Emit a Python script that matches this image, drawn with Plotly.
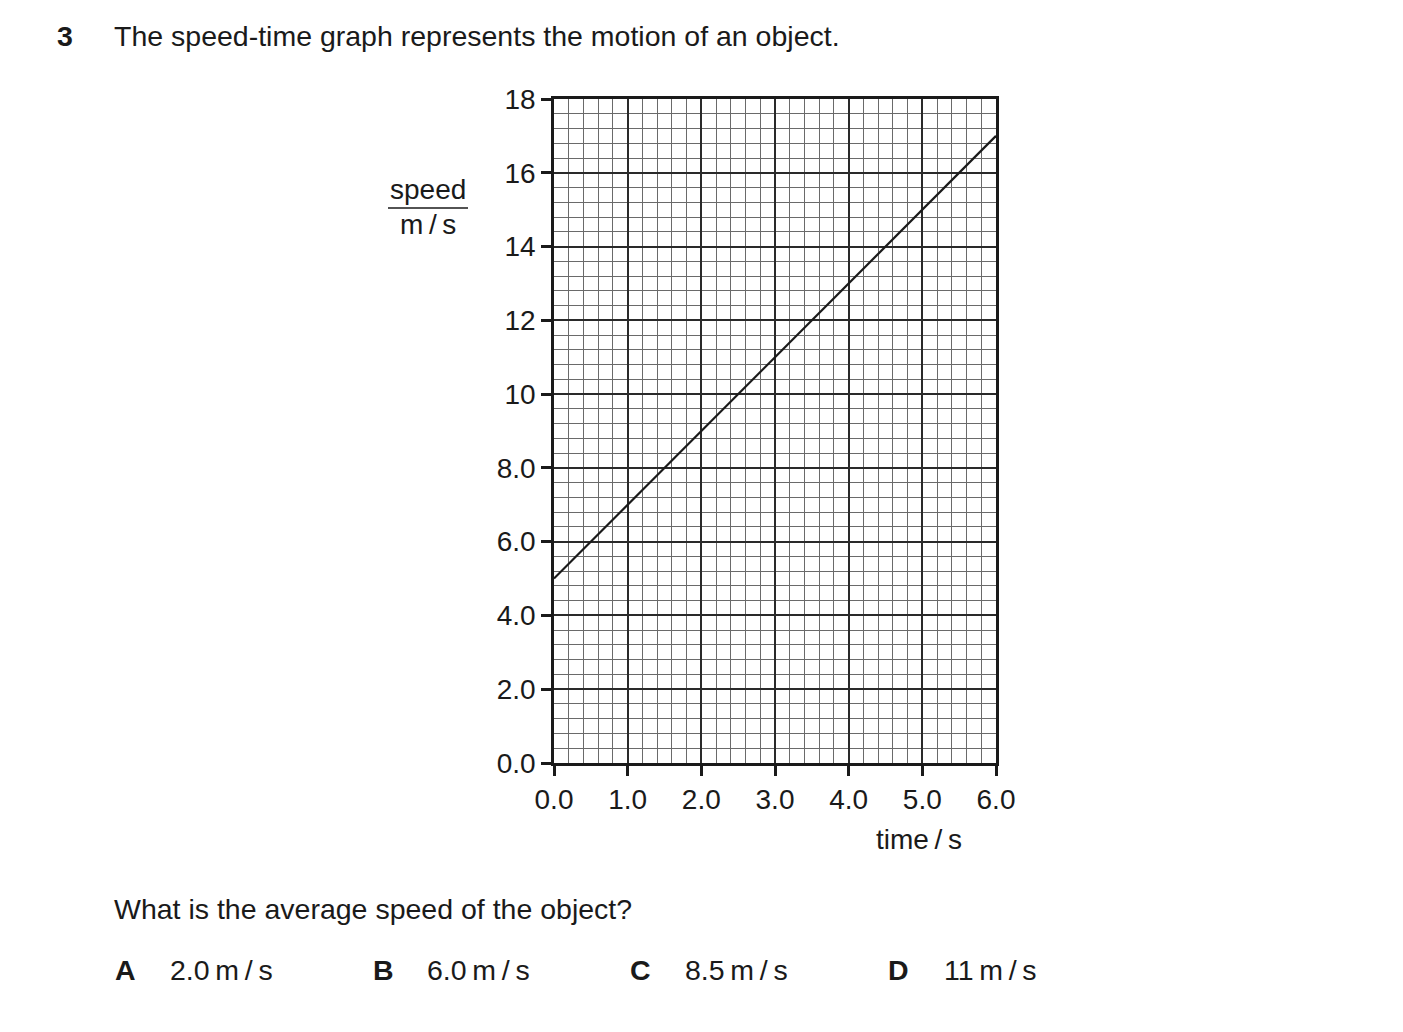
import plotly.graph_objects as go

# Data
time_s = [0.0, 6.0]
speed_ms = [5.0, 17.0]
x_tick_vals = [0, 1, 2, 3, 4, 5, 6]
x_tick_text = ["0.0", "1.0", "2.0", "3.0", "4.0", "5.0", "6.0"]
y_tick_vals = [0, 2, 4, 6, 8, 10, 12, 14, 16, 18]
y_tick_text = ["0.0", "2.0", "4.0", "6.0", "8.0", "10", "12", "14", "16", "18"]
answer_letters = ["A", "B", "C", "D"]
TS = "\u2009"
answer_values = [f"2.0{TS}m{TS}/{TS}s", f"6.0{TS}m{TS}/{TS}s", f"8.5{TS}m{TS}/{TS}s", f"11{TS}m{TS}/{TS}s"]

FONT = "Liberation Sans, Arial, sans-serif"
TXT = "#1a1a1a"
FS = 28.5
TFS = 28

# page offset (body margin)
OFF = 8
W, H = 1387, 1016
# desired plot area in page pixels
PL, PR, PT, PB = 554, 996, 99, 763
L = PL - OFF
T = PT - OFF
R = W - (PR - OFF)
B = H - (PB - OFF)
pw = W - L - R
ph = H - T - B

fig = go.Figure()
fig.add_trace(go.Scatter(x=time_s, y=speed_ms, mode="lines",
                         line=dict(color="#1a1a1a", width=2.2), showlegend=False,
                         hoverinfo="skip"))

fig.update_layout(
    width=W, height=H,
    margin=dict(l=L, r=R, t=T, b=B, pad=0),
    paper_bgcolor="white", plot_bgcolor="white",
    font=dict(family=FONT, size=TFS, color=TXT),
    showlegend=False,
)
common = dict(
    showgrid=True, gridcolor="#2a2a2a", gridwidth=1.6,
    showline=True, linecolor="#1a1a1a", linewidth=2.5, mirror=True,
    ticks="outside", ticklen=10, tickwidth=2.5, tickcolor="#1a1a1a",
    tickfont=dict(size=TFS, color=TXT, family=FONT), zeroline=False,
    fixedrange=True,
)
fig.update_xaxes(range=[0, 6], tickvals=x_tick_vals, ticktext=x_tick_text,
                 minor=dict(dtick=0.2, tick0=0, showgrid=True, gridcolor="#6a6a6a", gridwidth=1),
                 **common)
fig.update_yaxes(range=[0, 18], tickvals=y_tick_vals, ticktext=y_tick_text,
                 minor=dict(dtick=0.4, tick0=0, showgrid=True, gridcolor="#6a6a6a", gridwidth=1),
                 **common)

def to_paper(px, py):
    fx = px - OFF
    fy = py - OFF
    return (fx - L) / pw, 1 - (fy - T) / ph

ann = []
def add_text(text, px, py, anchor="left", size=FS):
    x, y = to_paper(px, py)
    ann.append(dict(text=text, x=x, y=y, xref="paper", yref="paper", showarrow=False,
                    xanchor=anchor, yanchor="middle",
                    font=dict(size=size, color=TXT, family=FONT)))

add_text("<b>3</b>", 55, 36)
add_text("The speed-time graph represents the motion of an object.", 112, 36)
add_text("speed", 428, 189, "center", TFS)
add_text(f"m{TS}/{TS}s", 428, 224, "center", TFS)
add_text(f"time{TS}/{TS}s", 919, 839, "center", TFS)
add_text("What is the average speed of the object?", 112, 909)
letter_x = [113, 371, 628, 886]
value_x = [168, 425, 683, 942]
for lx, vx, letter, val in zip(letter_x, value_x, answer_letters, answer_values):
    add_text(f"<b>{letter}</b>", lx, 970)
    add_text(val, vx, 970)
fig.update_layout(annotations=ann)

# fraction bar under "speed"
x0, y0 = to_paper(388, 208)
x1, _ = to_paper(468, 208)
fig.add_shape(type="line", xref="paper", yref="paper",
              x0=x0, x1=x1, y0=y0, y1=y0, line=dict(color=TXT, width=1.5))

fig.write_html("out.html", config={"displayModeBar": False})
